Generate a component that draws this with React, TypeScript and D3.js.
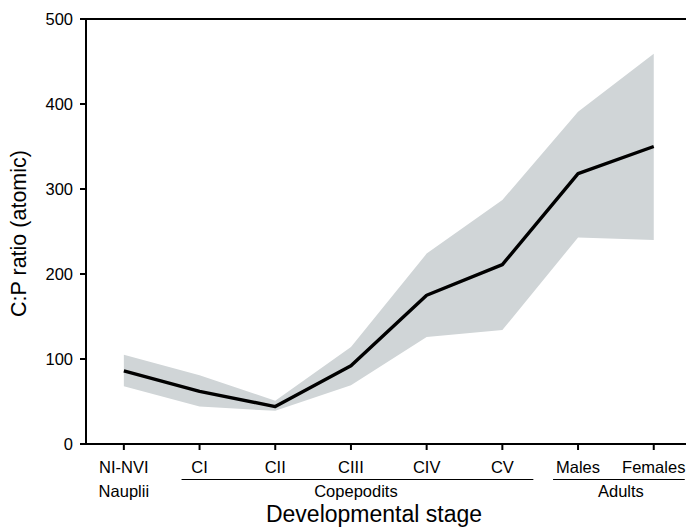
import React from "react";
import * as d3 from "d3";

const stages = ["NI-NVI", "CI", "CII", "CIII", "CIV", "CV", "Males", "Females"];
const meanValues = [86, 62, 44, 92, 175, 211, 318, 350];
const upperValues = [105, 81, 51, 114, 224, 287, 391, 459];
const lowerValues = [68, 44, 39, 69, 126, 134, 243, 240];
const yTicks = [0, 100, 200, 300, 400, 500];
const groups = [
  { label: "Nauplii", from: "NI-NVI", to: "NI-NVI", line: false },
  { label: "Copepodits", from: "CI", to: "CV", line: true },
  { label: "Adults", from: "Males", to: "Females", line: true },
];

export default function App() {
  const W = 686, H = 531;
  const left = 86, top = 19, bottom = 444;
  const step = 75.7;
  const x = d3.scalePoint<string>().domain(stages).range([left + step / 2, left + step * 7.5]);
  const y = d3.scaleLinear().domain([0, 500]).range([bottom, top]);
  const idx = stages.map((_, i) => i);
  const area = d3.area<number>().x((i) => x(stages[i])!).y0((i) => y(lowerValues[i])).y1((i) => y(upperValues[i]));
  const line = d3.line<number>().x((i) => x(stages[i])!).y((i) => y(meanValues[i]));
  const font = "Liberation Sans, Arial, sans-serif";
  return (
    <svg width={W} height={H} style={{ position: "absolute", left: 0, top: 0 }} fontFamily={font}>
      <rect width={W} height={H} fill="#fff" />
      <path d={area(idx)!} fill="#d0d5d7" />
      <path d={line(idx)!} fill="none" stroke="#000" strokeWidth={3.4} strokeLinejoin="round" />
      <line x1={left} x2={W + 10} y1={top} y2={top} stroke="#000" strokeWidth={2} />
      <line x1={left} x2={W + 10} y1={bottom} y2={bottom} stroke="#000" strokeWidth={2} />
      <line x1={left} x2={left} y1={top - 1} y2={bottom + 1} stroke="#000" strokeWidth={2} />
      {yTicks.map((t) => (
        <g key={t}>
          <line x1={left - 6} x2={left} y1={y(t)} y2={y(t)} stroke="#000" strokeWidth={2} />
          <text x={left - 13} y={y(t) + 6} textAnchor="end" fontSize={16.5}>{t}</text>
        </g>
      ))}
      {stages.map((s) => (
        <g key={s}>
          <line x1={x(s)!} x2={x(s)!} y1={bottom} y2={bottom + 6} stroke="#000" strokeWidth={2} />
          <text x={x(s)!} y={473} textAnchor="middle" fontSize={16.5}>{s}</text>
        </g>
      ))}
      {groups.map((g) => {
        const x1 = x(g.from)! - 18;
        const x2 = x(g.to)! + 31;
        const cx = g.line ? (x(g.from)! + x(g.to)!) / 2 + 5 : x(g.from)!;
        return (
          <g key={g.label}>
            {g.line && <line x1={g.from === "Males" ? x(g.from)! - 25 : x1} x2={Math.min(x2, W)} y1={479.5} y2={479.5} stroke="#000" strokeWidth={1.2} />}
            <text x={cx} y={497} textAnchor="middle" fontSize={16.5}>{g.label}</text>
          </g>
        );
      })}
      <text x={374} y={522} textAnchor="middle" fontSize={23}>Developmental stage</text>
      <text transform={`translate(26,233.5) rotate(-90)`} textAnchor="middle" fontSize={21.5}>C:P ratio (atomic)</text>
    </svg>
  );
}
